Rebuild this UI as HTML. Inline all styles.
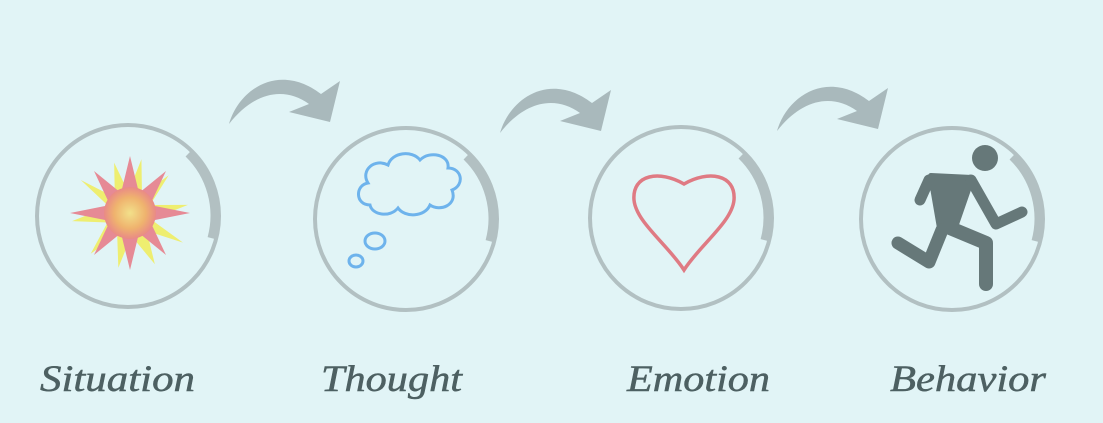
<!DOCTYPE html>
<html><head><meta charset="utf-8"><style>
html,body{margin:0;padding:0;background:#e1f4f6;}
svg{display:block}
text{font-family:"Liberation Serif",serif;font-style:italic;font-size:37px;fill:#4d6062;stroke:#4d6062;stroke-width:0.5;}
</style></head><body>
<svg width="1103" height="423" viewBox="0 0 1103 423">
<rect width="1103" height="423" fill="#e1f4f6"/>
<defs>
<radialGradient id="sg" cx="0.5" cy="0.5" r="0.5">
<stop offset="0" stop-color="#f2e08a"/><stop offset="0.6" stop-color="#efb36e"/><stop offset="1" stop-color="#e98a86"/>
</radialGradient>
<g id="ring">
<circle r="91" fill="none" stroke="#b2c0c2" stroke-width="4"/>
<path d="M 60 -62 A 86 86 0 0 1 83 22" fill="none" stroke="#b2c0c2" stroke-width="7"/>
</g>
<path id="arr" d="M0,0 C10,-35 50,-62 92,-30 L111,-43 L101,-2 L60,-12 L80,-20 C55,-38 25,-32 0,0 Z" fill="#a9b9bc"/>
</defs>

<use href="#arr" transform="translate(229,124)"/>
<use href="#arr" transform="translate(500,133)"/>
<use href="#arr" transform="translate(777,131)"/>

<use href="#ring" transform="translate(128,216)"/>
<use href="#ring" transform="translate(406,219)"/>
<use href="#ring" transform="translate(681,218)"/>
<use href="#ring" transform="translate(952,219)"/>

<g transform="translate(130,213)">
<polygon fill="#eeee70" points="0,-55 8,-20 30,-45 18,-12 55,-20 22,2 58,18 20,14 35,45 6,22 0,56 -8,24 -30,48 -20,14 -55,20 -22,-2 -55,-22 -18,-12 -26,-46 -6,-20" transform="rotate(12)"/>
<polygon fill="#e68a95" points="0,-57 9,-20 36,-42 20,-8 60,0 20,8 36,42 9,20 0,57 -9,20 -36,42 -20,8 -60,0 -20,-8 -36,-42 -9,-20"/>
<circle r="26" fill="url(#sg)"/>
</g>

<g fill="none" stroke="#6eb3ec" stroke-width="3">
<path d="M370 205 C 355 205 355 185 368 183 C 360 170 375 158 388 165 C 392 152 412 150 420 160 C 430 150 450 155 448 168 C 462 168 465 185 452 190 C 458 205 440 212 430 205 C 425 217 405 218 398 208 C 390 218 372 215 370 205 Z"/>
<ellipse cx="375" cy="241" rx="10" ry="8"/>
<ellipse cx="356" cy="261" rx="7" ry="6"/>
</g>

<path d="M684 184 C 660 170 632 174 634 200 C 636 222 668 245 684 270 C 700 245 732 222 734 200 C 736 174 708 170 684 184 Z" fill="none" stroke="#df7a83" stroke-width="3.5"/>

<g fill="#667879" stroke="#667879" stroke-linecap="round" stroke-linejoin="round">
<circle cx="985" cy="158" r="13" stroke="none"/>
<polygon points="931,176 972,178 954,230 940,228" stroke-width="6"/>
<path d="M929 180 L920 200" fill="none" stroke-width="11"/>
<path d="M971 180 L996 224 L1022 212" fill="none" stroke-width="11"/>
<path d="M942 230 L929 262 L898 243" fill="none" stroke-width="13"/>
<path d="M950 228 L986 243 L986 284" fill="none" stroke-width="14"/>
</g>

<text x="40" y="391" textLength="155" lengthAdjust="spacingAndGlyphs">Situation</text>
<text x="321" y="391" textLength="141" lengthAdjust="spacingAndGlyphs">Thought</text>
<text x="627" y="391" textLength="143" lengthAdjust="spacingAndGlyphs">Emotion</text>
<text x="890" y="391" textLength="156" lengthAdjust="spacingAndGlyphs">Behavior</text>
</svg>
</body></html>
